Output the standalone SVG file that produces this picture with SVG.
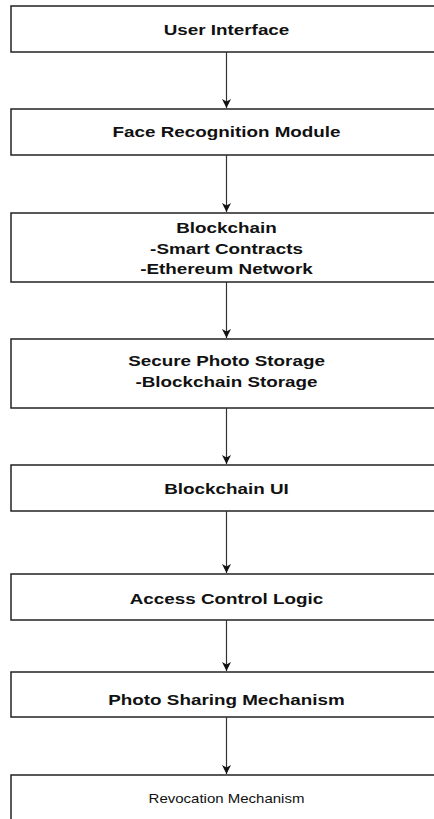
<svg xmlns="http://www.w3.org/2000/svg" width="434" height="819" viewBox="0 0 434 819">
<defs>
<style>
.box{fill:#ffffff;stroke:#222222;stroke-width:1.5}
.b{font-family:"Liberation Sans",Arial,Helvetica,sans-serif;font-weight:bold;font-size:14.5px;fill:#111111;text-anchor:middle}
.r{font-family:"Liberation Sans",Arial,Helvetica,sans-serif;font-size:12.5px;fill:#111111;text-anchor:middle}
.edge{stroke:#333333;stroke-width:1.2;fill:none}
</style>
<marker id="ah" markerWidth="10" markerHeight="10" refX="9" refY="5" orient="auto" markerUnits="userSpaceOnUse">
<path d="M0,0.5 L9,5 L0,9.5 L2.5,5 Z" fill="#111111"/>
</marker>
</defs>
<rect x="0" y="0" width="434" height="819" fill="#ffffff"/>
<g id="n1"><rect class="box" x="11" y="6" width="430" height="46"/><text class="b" transform="translate(226.5,35) scale(1.3,1)">User Interface</text></g>
<g id="n2"><rect class="box" x="11" y="109" width="430" height="46"/><text class="b" transform="translate(226.5,137) scale(1.3,1)">Face Recognition Module</text></g>
<g id="n3"><rect class="box" x="11" y="213" width="430" height="69"/><text class="b" transform="translate(226.5,233) scale(1.3,1)">Blockchain</text><text class="b" transform="translate(226.5,254) scale(1.3,1)">-Smart Contracts</text><text class="b" transform="translate(226.5,274) scale(1.3,1)">-Ethereum Network</text></g>
<g id="n4"><rect class="box" x="11" y="339" width="430" height="69"/><text class="b" transform="translate(226.5,366) scale(1.3,1)">Secure Photo Storage</text><text class="b" transform="translate(226.5,387) scale(1.3,1)">-Blockchain Storage</text></g>
<g id="n5"><rect class="box" x="11" y="465" width="430" height="46"/><text class="b" transform="translate(226.5,494) scale(1.3,1)">Blockchain UI</text></g>
<g id="n6"><rect class="box" x="11" y="574" width="430" height="46"/><text class="b" transform="translate(226.5,604) scale(1.3,1)">Access Control Logic</text></g>
<g id="n7"><rect class="box" x="11" y="672" width="430" height="45"/><text class="b" transform="translate(226.5,705) scale(1.3,1)">Photo Sharing Mechanism</text></g>
<g id="n8"><rect class="box" x="11" y="775" width="430" height="50"/><text class="r" transform="translate(226.5,803) scale(1.2,1)">Revocation Mechanism</text></g>
<g id="connectors">
<line class="edge" x1="226.5" y1="52" x2="226.5" y2="108" marker-end="url(#ah)"/>
<line class="edge" x1="226.5" y1="155" x2="226.5" y2="212" marker-end="url(#ah)"/>
<line class="edge" x1="226.5" y1="282" x2="226.5" y2="338" marker-end="url(#ah)"/>
<line class="edge" x1="226.5" y1="408" x2="226.5" y2="464" marker-end="url(#ah)"/>
<line class="edge" x1="226.5" y1="511" x2="226.5" y2="573" marker-end="url(#ah)"/>
<line class="edge" x1="226.5" y1="620" x2="226.5" y2="671" marker-end="url(#ah)"/>
<line class="edge" x1="226.5" y1="717" x2="226.5" y2="774" marker-end="url(#ah)"/>
</g>
</svg>
